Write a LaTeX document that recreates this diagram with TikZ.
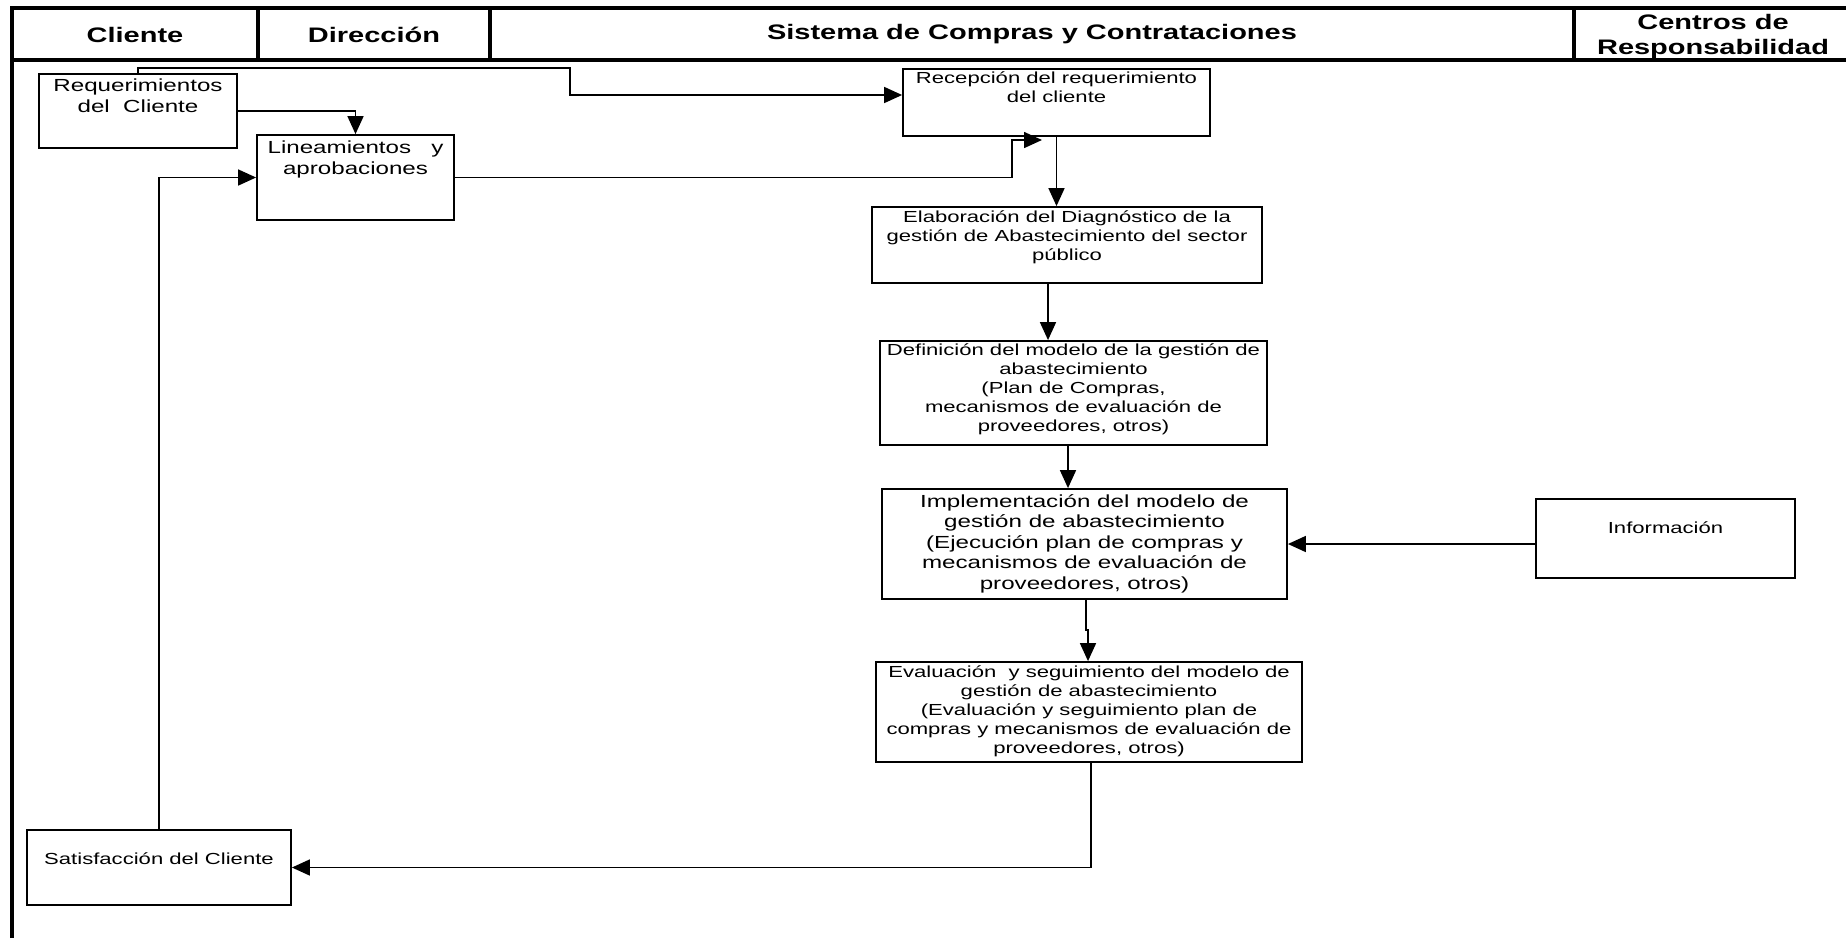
\documentclass[tikz,border=0pt]{standalone}
\usepackage{fontspec}
\setmainfont{Liberation Sans}[FakeStretch=1.38]
\usetikzlibrary{arrows.meta}
\begin{document}
\begin{tikzpicture}[x=1pt,y=-1pt,
  frameline/.style={line width=3.5pt, line join=miter},
  procbox/.style={draw, line width=1.8pt, rectangle, inner sep=0pt},
  txt/.style={anchor=north, inner sep=0pt, align=center, font=\fontsize{16}{19}\selectfont},
  bigtxt/.style={txt, font=\fontsize{17.5}{20.5}\selectfont},
  headtxt/.style={align=center, inner sep=0pt, font=\bfseries\fontsize{21}{25}\selectfont},
  conn/.style={line width=1.6pt},
  arr/.style={conn, -{Triangle[length=18pt,width=16pt]}},
]
\useasboundingbox (0,0) rectangle (1846,938);
\fill[white] (0,0) rectangle (1846,938);

% swimlane frame and header
\draw[frameline] (12,938) -- (12,8) -- (1846,8);
\draw[frameline] (12,60) -- (1846,60);
\draw[frameline] (258,8) -- (258,60);
\draw[frameline] (490,8) -- (490,60);
\draw[frameline] (1574,8) -- (1574,60);

\node[headtxt] (hCli) at (135,35) {Cliente};
\node[headtxt] (hDir) at (374,35) {Dirección};
\node[headtxt] (hSis) at (1032,34) {Sistema de Compras y Contrataciones};
\node[headtxt] (hCen) at (1713,37) {Centros de\\Responsabilidad};

% process boxes
\node[procbox, minimum width=198pt, minimum height=74pt]  (req) at (138,111) {};
\node[procbox, minimum width=197pt, minimum height=85pt]  (lin) at (355.5,177.5) {};
\node[procbox, minimum width=307pt, minimum height=67pt]  (rec) at (1056.5,102.5) {};
\node[procbox, minimum width=390pt, minimum height=76pt]  (ela) at (1067,245) {};
\node[procbox, minimum width=387pt, minimum height=104pt] (def) at (1073.5,393) {};
\node[procbox, minimum width=405pt, minimum height=110pt] (imp) at (1084.5,544) {};
\node[procbox, minimum width=426pt, minimum height=100pt] (eva) at (1089,712) {};
\node[procbox, minimum width=259pt, minimum height=79pt]  (inf) at (1665.5,538.5) {};
\node[procbox, minimum width=264pt, minimum height=75pt]  (sat) at (159,867.5) {};

% box texts
\node[bigtxt] (reqT) at ([yshift=-6pt]req.north) {Requerimientos\\del~~Cliente};
\node[bigtxt] (linT) at ([yshift=-7pt]lin.north) {Lineamientos~~~y\\aprobaciones};
\node[txt] (recT) at ([yshift=-3.5pt]rec.north) {Recepción del requerimiento\\del cliente};
\node[txt] (elaT) at ([yshift=-4pt]ela.north) {Elaboración del Diagnóstico de la\\gestión de Abastecimiento del sector\\público};
\node[txt] (defT) at ([yshift=-3.5pt]def.north) {Definición del modelo de la gestión de\\abastecimiento\\(Plan de Compras,\\mecanismos de evaluación de\\proveedores, otros)};
\node[bigtxt] (impT) at ([yshift=-6pt]imp.north) {Implementación del modelo de\\gestión de abastecimiento\\(Ejecución plan de compras y\\mecanismos de evaluación de\\proveedores, otros)};
\node[txt] (evaT) at ([yshift=-4.5pt]eva.north) {Evaluación~~y seguimiento del modelo de\\gestión de abastecimiento\\(Evaluación y seguimiento plan de\\compras y mecanismos de evaluación de\\proveedores, otros)};
\node[txt] (infT) at ([yshift=-23.5pt]inf.north) {Información};
\node[txt] (satT) at ([yshift=-23.5pt]sat.north) {Satisfacción del Cliente};

% helper coordinates for connector routing
\coordinate (yRec) at (0,95);
\coordinate (tipA) at (1042,140);
\coordinate (xB) at (1048,0);
\coordinate (xC) at (1068,0);
\coordinate (xD) at (1086,0);
\coordinate (xE) at (1088,0);
\coordinate (xF) at (1091,0);

% connectors
\draw[arr] (req.north) -- (138,68) -- (570,68) -- (570,95) -- (rec.west |- yRec);
\draw[arr] (req.east) -| (lin.north);
\draw[arr] (lin.east) -- (1012,177.5) -- (1012,140) -- (tipA);
\draw[arr] (rec.south) -- (rec.south |- ela.north);
\draw[arr] (xB |- ela.south) -- (xB |- def.north);
\draw[arr] (xC |- def.south) -- (xC |- imp.north);
\draw[arr] (xD |- imp.south) -- (1086,630) -- (1088,630) -- (xE |- eva.north);
\draw[arr] (xF |- eva.south) |- (sat.east);
\draw[arr] (sat.north) |- (lin.west);
\draw[arr] (inf.west |- imp.east) -- (imp.east);
\end{tikzpicture}
\end{document}
